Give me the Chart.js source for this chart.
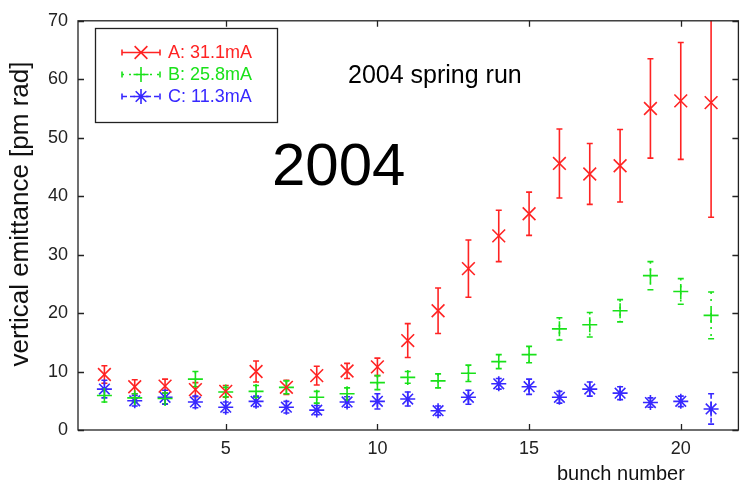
<!DOCTYPE html>
<html>
<head>
<meta charset="utf-8">
<script src="https://cdn.jsdelivr.net/npm/chart.js@4.4.1/dist/chart.umd.min.js"></script>
<style>
  html, body { margin: 0; padding: 0; background: #fff; }
  #wrap { width: 749px; height: 484px; }
</style>
</head>
<body>
<div id="wrap"><canvas id="emit" width="749" height="484"></canvas></div>
<script>
const FONT = "'Liberation Sans', Arial, Helvetica, sans-serif";

const bunch = [1, 2, 3, 4, 5, 6, 7, 8, 9, 10, 11, 12, 13, 14, 15, 16, 17, 18, 19, 20, 21];
const emitA = [9.5, 7.4, 7.5, 6.9, 6.6, 10.0, 7.3, 9.3, 10.1, 10.8, 15.3, 20.4, 27.6, 33.2, 37.0, 45.6, 43.8, 45.2, 55.0, 56.3, 56.0];
const errA = [1.5, 1.2, 1.2, 1.2, 1.0, 1.8, 1.2, 1.6, 1.3, 1.5, 2.9, 3.9, 4.9, 4.4, 3.7, 5.9, 5.2, 6.2, 8.5, 10.0, 19.6];
const emitB = [5.9, 5.5, 5.4, 8.7, 6.5, 6.6, 7.3, 5.6, 6.2, 8.1, 9.0, 8.4, 9.7, 11.7, 12.9, 17.3, 18.0, 20.4, 26.4, 23.7, 19.6];
const errB = [1.1, 0.7, 0.9, 1.3, 0.8, 1.0, 1.1, 1.0, 1.0, 1.2, 1.0, 1.2, 1.4, 1.2, 1.4, 1.9, 2.1, 1.9, 2.4, 2.2, 4.0];
const emitC = [7.0, 5.0, 5.6, 4.8, 3.9, 4.9, 3.9, 3.4, 4.8, 4.9, 5.3, 3.3, 5.6, 7.9, 7.4, 5.6, 7.0, 6.3, 4.7, 4.9, 3.6];
const errC = [1.5, 0.9, 1.2, 1.0, 0.9, 0.9, 1.0, 0.8, 0.9, 1.3, 1.2, 0.8, 1.2, 0.9, 1.3, 1.0, 1.2, 1.1, 0.8, 0.9, 2.6];

const seriesNames = ["A: 31.1mA", "B: 25.8mA", "C: 11.3mA"];
const seriesColors = ["rgb(255,35,35)", "rgb(25,225,25)", "rgb(55,40,255)"];
const seriesMarkers = ["crossRot", "cross", "star"];
const seriesSizes = [9, 7.5, 7.5];
const seriesDash = [[], [2, 5], [5, 3]];
const xTicks = [5, 10, 15, 20];
const yTicks = [0, 10, 20, 30, 40, 50, 60, 70];

const emits = [emitA, emitB, emitC];
const errs = [errA, errB, errC];

const datasets = emits.map((vals, i) => ({
  label: seriesNames[i],
  data: bunch.map((b, j) => ({ x: b, y: vals[j], err: errs[i][j] })),
  showLine: false,
  pointStyle: seriesMarkers[i],
  pointRadius: seriesSizes[i],
  pointHoverRadius: seriesSizes[i],
  borderColor: seriesColors[i],
  backgroundColor: seriesColors[i],
  borderWidth: 1.6,
  dash: seriesDash[i]
}));

// error bars, drawn under the markers
const errorBars = {
  id: "errorBars",
  beforeDatasetsDraw(chart) {
    const { ctx, chartArea: a, scales: { x, y } } = chart;
    ctx.save();
    ctx.beginPath();
    ctx.rect(a.left, a.top, a.right - a.left, a.bottom - a.top);
    ctx.clip();
    chart.data.datasets.forEach((ds) => {
      ctx.strokeStyle = ds.borderColor;
      ctx.lineWidth = 1.6;
      ds.data.forEach((p) => {
        const px = x.getPixelForValue(p.x);
        const top = y.getPixelForValue(p.y + p.err);
        const bot = y.getPixelForValue(p.y - p.err);
        ctx.setLineDash(ds.dash);
        ctx.beginPath();
        ctx.moveTo(px, top);
        ctx.lineTo(px, bot);
        ctx.stroke();
        ctx.setLineDash([]);
        ctx.beginPath();
        ctx.moveTo(px - 3, top);
        ctx.lineTo(px + 3, top);
        ctx.moveTo(px - 3, bot);
        ctx.lineTo(px + 3, bot);
        ctx.stroke();
      });
    });
    ctx.restore();
  }
};

// box, inward ticks, texts and legend in matlab style
const frame = {
  id: "frame",
  afterDraw(chart) {
    const { ctx, chartArea: a, scales: { x, y } } = chart;
    ctx.save();
    ctx.strokeStyle = "#222";
    ctx.lineWidth = 1.3;
    ctx.strokeRect(a.left, a.top, a.right - a.left, a.bottom - a.top);
    ctx.beginPath();
    xTicks.forEach((v) => {
      const px = Math.round(x.getPixelForValue(v)) + 0.5;
      ctx.moveTo(px, a.bottom); ctx.lineTo(px, a.bottom - 6);
      ctx.moveTo(px, a.top); ctx.lineTo(px, a.top + 6);
    });
    yTicks.forEach((v) => {
      const py = Math.round(y.getPixelForValue(v)) + 0.5;
      ctx.moveTo(a.left, py); ctx.lineTo(a.left + 6, py);
      ctx.moveTo(a.right, py); ctx.lineTo(a.right - 6, py);
    });
    ctx.stroke();

    // axis titles
    ctx.fillStyle = "#111";
    ctx.textBaseline = "middle";
    ctx.textAlign = "left";
    ctx.font = "20px " + FONT;
    ctx.fillText("bunch number", 557, 474);
    ctx.save();
    ctx.translate(21, 214);
    ctx.rotate(-Math.PI / 2);
    ctx.textAlign = "center";
    ctx.font = "26px " + FONT;
    ctx.fillText("vertical emittance [pm rad]", 0, 0);
    ctx.restore();

    // annotations
    ctx.fillStyle = "#000";
    ctx.font = "25px " + FONT;
    ctx.fillText("2004 spring run", 348, 76);
    ctx.font = "60px " + FONT;
    ctx.fillText("2004", 272, 168);

    // legend
    ctx.fillStyle = "#fff";
    ctx.fillRect(95.5, 28.5, 182, 94);
    ctx.strokeStyle = "#222";
    ctx.lineWidth = 1.3;
    ctx.strokeRect(95.5, 28.5, 182, 94);
    const rows = [52.5, 74.5, 96.5];
    ctx.font = "18px " + FONT;
    chart.data.datasets.forEach((ds, i) => {
      const ry = rows[i];
      ctx.strokeStyle = ds.borderColor;
      ctx.lineWidth = 1.6;
      ctx.setLineDash(ds.dash);
      ctx.beginPath();
      ctx.moveTo(122, ry); ctx.lineTo(160, ry);
      ctx.stroke();
      ctx.setLineDash([]);
      ctx.beginPath();
      ctx.moveTo(122, ry - 3); ctx.lineTo(122, ry + 3);
      ctx.moveTo(160, ry - 3); ctx.lineTo(160, ry + 3);
      ctx.stroke();
      Chart.helpers.drawPoint(ctx, {
        pointStyle: ds.pointStyle,
        radius: ds.pointRadius,
        borderWidth: 1.6
      }, 141, ry);
      ctx.fillStyle = ds.borderColor;
      ctx.fillText(ds.label, 168, ry + 1);
    });
    ctx.restore();
  }
};

new Chart(document.getElementById("emit"), {
  type: "scatter",
  data: { datasets },
  options: {
    responsive: false,
    animation: false,
    layout: { padding: { top: 15, right: 1, left: 0, bottom: 0 } },
    plugins: { legend: { display: false }, tooltip: { enabled: false } },
    scales: {
      x: {
        type: "linear",
        min: 0.13,
        max: 21.9,
        afterBuildTicks: (s) => { s.ticks = xTicks.map((v) => ({ value: v })); },
        afterFit: (s) => { s.height = 54; },
        grid: { display: false, drawTicks: false },
        border: { display: false },
        ticks: { font: { family: FONT, size: 18 }, color: "#222", padding: 8, maxRotation: 0 }
      },
      y: {
        min: 0,
        max: 70,
        afterBuildTicks: (s) => { s.ticks = yTicks.map((v) => ({ value: v })); },
        afterFit: (s) => { s.width = 78; },
        grid: { display: false, drawTicks: false },
        border: { display: false },
        ticks: { font: { family: FONT, size: 18 }, color: "#222", padding: 10 }
      }
    }
  },
  plugins: [errorBars, frame]
});
</script>
</body>
</html>
